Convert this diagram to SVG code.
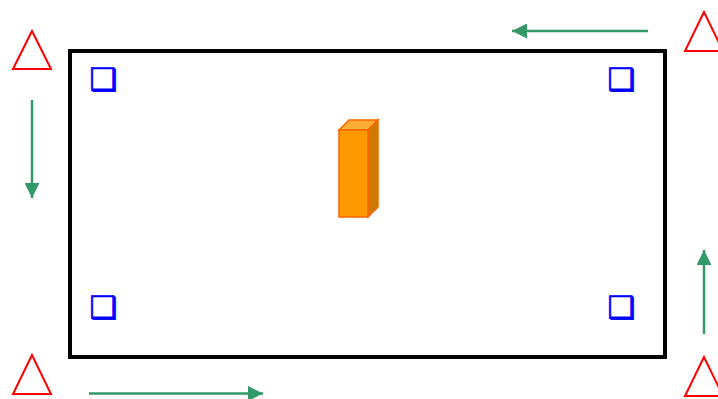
<svg xmlns="http://www.w3.org/2000/svg" width="718" height="399" viewBox="0 0 718 399">
<style>
.tri{fill:none;stroke:#FF0000;stroke-width:2}
.sq{font-family:"DejaVu Sans",sans-serif;font-size:31px;font-weight:bold;fill:#0000FF;stroke:#0000FF;stroke-width:0.8}
.conn{stroke:#339966;stroke-width:2.5;fill:none}
</style>
<defs>
<marker id="ah" viewBox="0 0 15 15" refX="15" refY="7.5" markerUnits="userSpaceOnUse" markerWidth="15" markerHeight="15" orient="auto">
<path d="M0,0 L15,7.5 L0,15 Z" fill="#339966"/>
</marker>
</defs>
<g id="frame"><rect x="70" y="51" width="595" height="306" fill="#FFFFFF" stroke="#000000" stroke-width="4"/></g>
<g id="tri-tl"><polygon class="tri" points="32,31 13,69 51,69"/></g>
<g id="tri-bl"><polygon class="tri" points="32,355 13,394 51,394"/></g>
<g id="tri-tr"><polygon class="tri" points="704,12 685,51 723,51"/></g>
<g id="tri-br"><polygon class="tri" points="704,357 685,396 723,396"/></g>
<g id="sq-tl"><text class="sq" x="89.5" y="89.5">❑</text></g>
<g id="sq-tr"><text class="sq" x="607.5" y="89.5">❑</text></g>
<g id="sq-bl"><text class="sq" x="89.5" y="317.5">❑</text></g>
<g id="sq-br"><text class="sq" x="607.5" y="317.5">❑</text></g>
<g id="box">
<polygon points="339,130 349,120 378,120 368,130" fill="#FFAD33" stroke="#FF6600" stroke-width="1.5"/>
<polygon points="368,130 378,120 378,207 368,217" fill="#CC7A00" stroke="#FF6600" stroke-width="1.5"/>
<rect x="339" y="130" width="29" height="87" fill="#FF9900" stroke="#FF6600" stroke-width="1.5"/>
</g>
<g id="connectors">
<line class="conn" x1="32" y1="100" x2="32" y2="198" marker-end="url(#ah)"/>
<line class="conn" x1="648" y1="31" x2="512" y2="31" marker-end="url(#ah)"/>
<line class="conn" x1="89" y1="393.5" x2="263" y2="393.5" marker-end="url(#ah)"/>
<line class="conn" x1="704" y1="334" x2="704" y2="250" marker-end="url(#ah)"/>
</g>
</svg>
